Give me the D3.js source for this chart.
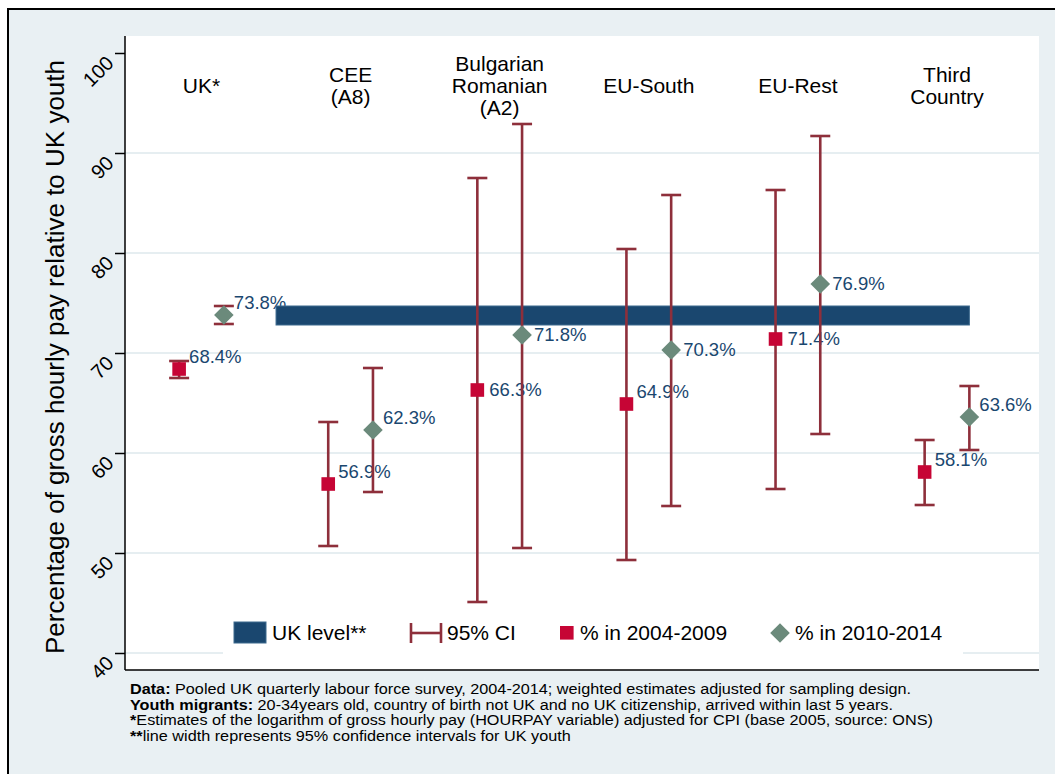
<!DOCTYPE html>
<html>
<head>
<meta charset="utf-8">
<script src="https://cdn.jsdelivr.net/npm/d3@7"></script>
<style>
  html, body { margin: 0; padding: 0; background: #ffffff; }
  svg { display: block; font-family: "Liberation Sans", Arial, Helvetica, sans-serif; }
</style>
</head>
<body>
<svg id="chart" width="1055" height="774"></svg>
<script>
// ---------------- data ----------------
const categories = ["UK*", "CEE\n(A8)", "Bulgarian\nRomanian\n(A2)", "EU-South", "EU-Rest", "Third\nCountry"];
const pct0409  = [68.4, 56.9, 66.3, 64.9, 71.4, 58.1];
const low0409  = [67.5, 50.7, 45.1, 49.3, 56.4, 54.8];
const high0409 = [69.2, 63.1, 87.5, 80.4, 86.3, 61.3];
const pct1014  = [73.8, 62.3, 71.8, 70.3, 76.9, 63.6];
const low1014  = [72.9, 56.1, 50.5, 54.7, 61.9, 60.3];
const high1014 = [74.7, 68.5, 92.9, 85.8, 91.7, 66.7];
const ukLevelLow = 72.8, ukLevelHigh = 74.7;
const ukLevelFrom = 0.5, ukLevelTo = 5.15;   // category-unit extent of the UK band
const yTicks = [40, 50, 60, 70, 80, 90, 100];
const labelClock0409 = [2, 2, 3, 2, 3, 2];     // marker label positions (clock)
const labelClock1014 = [2, 2, 3, 3, 3, 2];
const footnotes = [
  [["Data:", true], [" Pooled UK quarterly labour force survey, 2004-2014; weighted estimates adjusted for sampling design.", false]],
  [["Youth migrants:", true], [" 20-34years old, country of birth not UK and no UK citizenship, arrived within last 5 years.", false]],
  [["*", true], ["Estimates of the logarithm of gross hourly pay (HOURPAY variable) adjusted for CPI (base 2005, source: ONS)", false]],
  [["**", true], ["line width represents 95% confidence intervals for UK youth", false]]
];

// ---------------- styles ----------------
const bg = "#e9f0f3";
const navy = "#1a476f";
const ciColor = "#8e2f3b";
const redColor = "#c60535";
const greenColor = "#6b8a7b";
const labelColor = "#1a476f";

const svg = d3.select("#chart");
const plot = {left: 125, right: 1039, top: 36, bottom: 670};

// outer frame
svg.append("rect").attr("x", 8).attr("y", 9).attr("width", 1070).attr("height", 790)
  .attr("fill", bg).attr("stroke", "#000").attr("stroke-width", 2);
// plot area
svg.append("rect").attr("x", plot.left).attr("y", plot.top)
  .attr("width", plot.right - plot.left).attr("height", plot.bottom - plot.top).attr("fill", "#fff");

const x = d3.scaleLinear().domain([-0.513, 5.617]).range([plot.left, plot.right]);
const y = d3.scaleLinear().domain([40, 100]).range([653, 53]);
const off = 0.15;

// grid
svg.append("g").selectAll("line").data(yTicks.filter(t => t < 100)).join("line")
  .attr("x1", plot.left).attr("x2", plot.right)
  .attr("y1", d => y(d)).attr("y2", d => y(d))
  .attr("stroke", "#e6eef1").attr("stroke-width", 2);

// y axis
const yAxis = svg.append("g").attr("transform", `translate(${plot.left},0)`)
  .call(d3.axisLeft(y).tickValues(yTicks).tickSize(10).tickFormat(d3.format("d")));
yAxis.select(".domain").attr("d", `M0,${plot.top}V${plot.bottom}`).attr("stroke", "#000").attr("stroke-width", 1.5);
yAxis.selectAll(".tick line").attr("stroke", "#000").attr("stroke-width", 1.5);
yAxis.selectAll(".tick text")
  .attr("x", null).attr("dy", null)
  .attr("text-anchor", "end")
  .attr("transform", "translate(-15,6) rotate(-45)")
  .attr("dy", "0.35em")
  .attr("font-size", 20).attr("font-family", "Liberation Sans, Arial, sans-serif").attr("fill", "#000");

// x axis baseline
svg.append("line").attr("x1", plot.left).attr("x2", plot.right)
  .attr("y1", plot.bottom).attr("y2", plot.bottom).attr("stroke", "#000").attr("stroke-width", 1.5);

// y title
svg.append("text").attr("transform", `translate(64,${(plot.top + plot.bottom) / 2 + 4}) rotate(-90)`)
  .attr("text-anchor", "middle").attr("font-size", 26).attr("fill", "#000")
  .text("Percentage of gross hourly pay relative to UK youth");

// category labels
const catG = svg.append("g");
categories.forEach((c, i) => {
  const lines = c.split("\n");
  const t = catG.append("text").attr("text-anchor", "middle").attr("font-size", 21).attr("fill", "#000");
  const lh = 22, cy = 85;
  lines.forEach((ln, j) => {
    t.append("tspan").attr("x", x(i)).attr("y", cy - (lines.length - 1) * lh / 2 + j * lh + 7.5).text(ln);
  });
});

// marker labels (drawn beneath the UK band)
function labels(vals, xs, clock) {
  svg.append("g").selectAll("text").data(vals).join("text")
    .attr("x", (d, i) => x(xs[i]) + (clock[i] === 3 ? 12 : 10))
    .attr("y", (d, i) => y(d) + (clock[i] === 3 ? 0 : -12))
    .attr("dy", "0.35em").attr("font-size", 18.5).attr("fill", labelColor)
    .text(d => d3.format(".1f")(d) + "%");
}
const xs0409 = categories.map((c, i) => i - off);
const xs1014 = categories.map((c, i) => i + off);
labels(pct0409, xs0409, labelClock0409);
labels(pct1014, xs1014, labelClock1014);

// UK level band
svg.append("rect").attr("x", x(ukLevelFrom)).attr("y", y(ukLevelHigh))
  .attr("width", x(ukLevelTo) - x(ukLevelFrom)).attr("height", y(ukLevelLow) - y(ukLevelHigh))
  .attr("fill", navy).attr("stroke", "#3d6a8e").attr("stroke-width", 1);

// error bars
function ci(xs, lo, hi) {
  const d = xs.map((xv, i) => ({xv, lo: lo[i], hi: hi[i]}));
  const gg = svg.append("g").attr("stroke", ciColor).attr("stroke-width", 2.6);
  gg.selectAll("line.v").data(d).join("line").attr("class", "v")
    .attr("x1", e => x(e.xv)).attr("x2", e => x(e.xv)).attr("y1", e => y(e.lo)).attr("y2", e => y(e.hi));
  gg.selectAll("line.t").data(d).join("line").attr("class", "t")
    .attr("x1", e => x(e.xv) - 10).attr("x2", e => x(e.xv) + 10).attr("y1", e => y(e.hi)).attr("y2", e => y(e.hi));
  gg.selectAll("line.b").data(d).join("line").attr("class", "b")
    .attr("x1", e => x(e.xv) - 10).attr("x2", e => x(e.xv) + 10).attr("y1", e => y(e.lo)).attr("y2", e => y(e.lo));
}
ci(xs0409, low0409, high0409);
ci(xs1014, low1014, high1014);

// markers
svg.append("g").selectAll("rect").data(pct0409).join("rect")
  .attr("x", (d, i) => x(xs0409[i]) - 6.8).attr("y", d => y(d) - 6.8)
  .attr("width", 13.6).attr("height", 13.6).attr("fill", redColor);
const diamond = (cx, cy, r) => `M${cx},${cy - r}L${cx + r},${cy}L${cx},${cy + r}L${cx - r},${cy}Z`;
svg.append("g").selectAll("path").data(pct1014).join("path")
  .attr("d", (d, i) => diamond(x(xs1014[i]), y(d), 9.8)).attr("fill", greenColor);

// legend
const lg = svg.append("g");
lg.append("rect").attr("x", 223).attr("y", 607).attr("width", 740).attr("height", 55).attr("fill", "#fff");
const ly = 633;
lg.append("rect").attr("x", 234).attr("y", ly - 11).attr("width", 32).attr("height", 21)
  .attr("fill", navy).attr("stroke", "#3d6a8e").attr("stroke-width", 1);
lg.append("text").attr("x", 272).attr("y", ly).attr("dy", "0.35em").attr("font-size", 21).text("UK level**");
const lci = lg.append("g").attr("stroke", ciColor).attr("stroke-width", 2.6);
lci.append("line").attr("x1", 411).attr("x2", 441).attr("y1", ly).attr("y2", ly);
lci.append("line").attr("x1", 411).attr("x2", 411).attr("y1", ly - 10).attr("y2", ly + 10);
lci.append("line").attr("x1", 441).attr("x2", 441).attr("y1", ly - 10).attr("y2", ly + 10);
lg.append("text").attr("x", 447).attr("y", ly).attr("dy", "0.35em").attr("font-size", 21).text("95% CI");
lg.append("rect").attr("x", 560).attr("y", ly - 7).attr("width", 13.6).attr("height", 13.6).attr("fill", redColor);
lg.append("text").attr("x", 580).attr("y", ly).attr("dy", "0.35em").attr("font-size", 21).text("% in 2004-2009");
lg.append("path").attr("d", diamond(780, ly, 9.8)).attr("fill", greenColor);
lg.append("text").attr("x", 795).attr("y", ly).attr("dy", "0.35em").attr("font-size", 21).text("% in 2010-2014");

// footnotes (condensed)
const fg = svg.append("g");
const fnY = [694, 709.5, 725, 740.5];
const fnText = footnotes.map((parts, k) => {
  const t = fg.append("text").attr("x", 0).attr("y", 0).attr("font-size", 15).attr("fill", "#000");
  parts.forEach(([s, b]) => t.append("tspan").attr("font-weight", b ? "bold" : "normal").text(s));
  return t;
});
const w0 = fnText[0].node().getComputedTextLength();
const sx = 782 / w0;
fnText.forEach((t, k) => t.attr("transform", `translate(130,${fnY[k]}) scale(${sx},1)`));
</script>
</body>
</html>
